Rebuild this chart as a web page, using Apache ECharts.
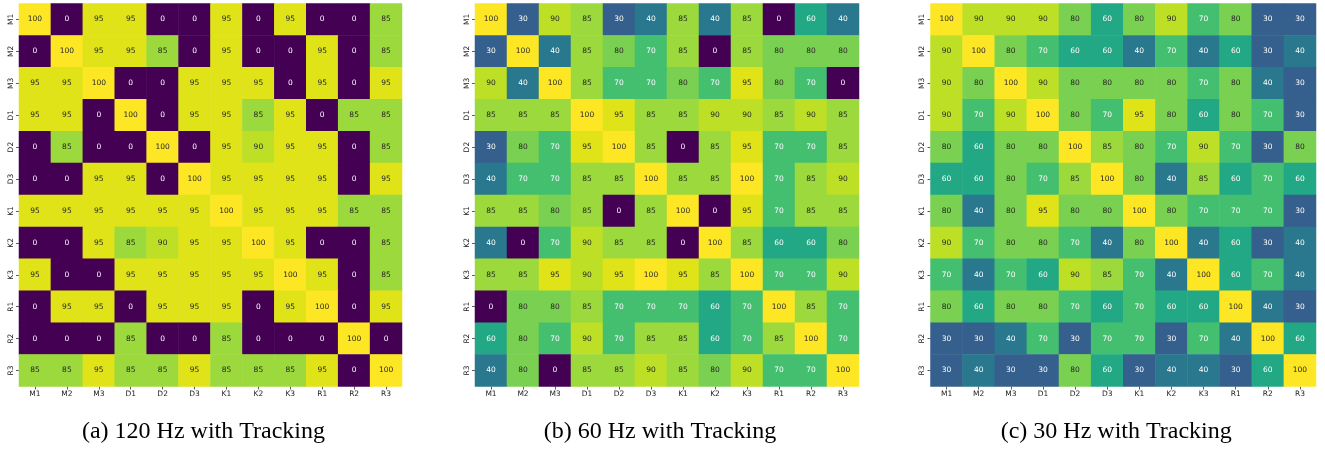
<!DOCTYPE html>
<html>
<head>
<meta charset="utf-8">
<script src="https://cdn.jsdelivr.net/npm/echarts@6/dist/echarts.min.js"></script>
<style>
html,body{margin:0;padding:0;background:#fff;}
#chart{width:1325px;height:449px;}
</style>
</head>
<body>
<div id="chart"></div>
<script>
const labels = ['M1','M2','M3','D1','D2','D3','K1','K2','K3','R1','R2','R3'];

const captions = ['(a) 120 Hz with Tracking', '(b) 60 Hz with Tracking', '(c) 30 Hz with Tracking'];

const hz120 = [
  [100,0,95,95,0,0,95,0,95,0,0,85],
  [0,100,95,95,85,0,95,0,0,95,0,85],
  [95,95,100,0,0,95,95,95,0,95,0,95],
  [95,95,0,100,0,95,95,85,95,0,85,85],
  [0,85,0,0,100,0,95,90,95,95,0,85],
  [0,0,95,95,0,100,95,95,95,95,0,95],
  [95,95,95,95,95,95,100,95,95,95,85,85],
  [0,0,95,85,90,95,95,100,95,0,0,85],
  [95,0,0,95,95,95,95,95,100,95,0,85],
  [0,95,95,0,95,95,95,0,95,100,0,95],
  [0,0,0,85,0,0,85,0,0,0,100,0],
  [85,85,95,85,85,95,85,85,85,95,0,100]
];

const hz60 = [
  [100,30,90,85,30,40,85,40,85,0,60,40],
  [30,100,40,85,80,70,85,0,85,80,80,80],
  [90,40,100,85,70,70,80,70,95,80,70,0],
  [85,85,85,100,95,85,85,90,90,85,90,85],
  [30,80,70,95,100,85,0,85,95,70,70,85],
  [40,70,70,85,85,100,85,85,100,70,85,90],
  [85,85,80,85,0,85,100,0,95,70,85,85],
  [40,0,70,90,85,85,0,100,85,60,60,80],
  [85,85,95,90,95,100,95,85,100,70,70,90],
  [0,80,80,85,70,70,70,60,70,100,85,70],
  [60,80,70,90,70,85,85,60,70,85,100,70],
  [40,80,0,85,85,90,85,80,90,70,70,100]
];

const hz30 = [
  [100,90,90,90,80,60,80,90,70,80,30,30],
  [90,100,80,70,60,60,40,70,40,60,30,40],
  [90,80,100,90,80,80,80,80,70,80,40,30],
  [90,70,90,100,80,70,95,80,60,80,70,30],
  [80,60,80,80,100,85,80,70,90,70,30,80],
  [60,60,80,70,85,100,80,40,85,60,70,60],
  [80,40,80,95,80,80,100,80,70,70,70,30],
  [90,70,80,80,70,40,80,100,40,60,30,40],
  [70,40,70,60,90,85,70,40,100,60,70,40],
  [80,60,80,80,70,60,70,60,60,100,40,30],
  [30,30,40,70,30,70,70,30,70,40,100,60],
  [30,40,30,30,80,60,30,40,40,30,60,100]
];

const viridis = ['#440154','#471365','#482475','#463480','#414487','#3b528b','#355f8d','#2f6c8e','#2a788e','#25848e','#21918c','#1e9c89','#22a884','#2fb47c','#44bf70','#5ec962','#7ad151','#9bd93c','#bddf26','#dfe318','#fde725'];

const matrices = [hz120, hz60, hz30];
const grids = [
  {left: 19, top: 3.5, width: 383, height: 383},
  {left: 475, top: 3.5, width: 384, height: 383},
  {left: 930.5, top: 3.5, width: 385.5, height: 383}
];

const tickFont = {fontFamily: 'DejaVu Sans', fontSize: 7.5, color: '#222'};

function toData(m) {
  const out = [];
  for (let r = 0; r < m.length; r++) {
    for (let c = 0; c < m[r].length; c++) {
      const v = m[r][c];
      out.push({value: [c, r, v], label: {color: v <= 75 ? '#ffffff' : '#262626'}});
    }
  }
  return out;
}

const option = {
  animation: false,
  backgroundColor: '#ffffff',
  grid: grids.map(g => Object.assign({containLabel: false}, g)),
  xAxis: grids.map((g, i) => ({
    type: 'category', gridIndex: i, data: labels,
    axisLine: {show: false},
    axisTick: {show: true, alignWithLabel: true, length: 3, lineStyle: {color: '#333', width: 0.8}},
    axisLabel: Object.assign({margin: 3.5, interval: 0}, tickFont),
    splitLine: {show: false}
  })),
  yAxis: grids.map((g, i) => ({
    type: 'category', gridIndex: i, data: labels, inverse: true,
    axisLine: {show: false},
    axisTick: {show: true, alignWithLabel: true, length: 3, lineStyle: {color: '#333', width: 0.8}},
    axisLabel: Object.assign({margin: 4, rotate: 90, interval: 0}, tickFont),
    splitLine: {show: false}
  })),
  visualMap: matrices.map((m, i) => ({
    show: false, type: 'continuous', min: 0, max: 100, seriesIndex: i, dimension: 2,
    inRange: {color: viridis}
  })),
  series: matrices.map((m, i) => ({
    type: 'heatmap', xAxisIndex: i, yAxisIndex: i,
    data: toData(m),
    itemStyle: {borderWidth: 0},
    label: {show: true, fontFamily: 'DejaVu Sans', fontSize: 7.5},
    emphasis: {disabled: true}
  })),
  graphic: captions.map((t, i) => ({
    type: 'text',
    x: grids[i].left + grids[i].width / 2 - 7,
    y: 432,
    style: {text: t, font: '24px "Liberation Serif"', fill: '#000', textAlign: 'center', textVerticalAlign: 'middle'}
  }))
};

const chart = echarts.init(document.getElementById('chart'), null, {renderer: 'canvas'});
chart.setOption(option);
</script>
</body>
</html>
